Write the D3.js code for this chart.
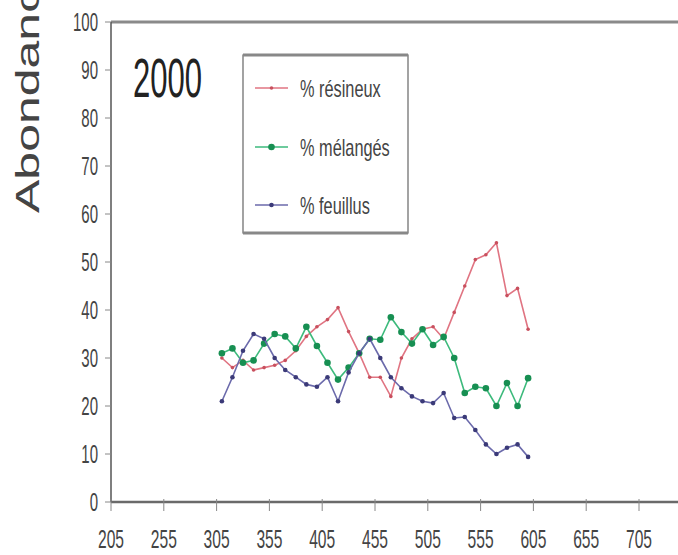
<!DOCTYPE html>
<html>
<head>
<meta charset="utf-8">
<script src="https://cdn.jsdelivr.net/npm/d3@7"></script>
<style>
  body { margin: 0; background: white; }
  svg { display: block; }
</style>
</head>
<body>
<div id="chart"></div>
<script>
// Diamètres (classes) et pourcentages
const classes = [310, 320, 330, 340, 350, 360, 370, 380, 390, 400,
                 410, 420, 430, 440, 450, 460, 470, 480, 490, 500,
                 510, 520, 530, 540, 550, 560, 570, 580, 590, 600];
const resineux = [30, 28, 29.5, 27.5, 28, 28.5, 29.5, 31.5, 34.5, 36.5,
                  38, 40.5, 35.5, 31, 26, 26, 22, 30, 34, 36,
                  36.5, 34, 39.5, 45, 50.5, 51.5, 54, 43, 44.5, 36];
const melanges = [31, 32, 29, 29.5, 33, 35, 34.5, 32, 36.5, 32.5,
                  29, 25.5, 28, 31, 34, 33.8, 38.5, 35.4, 33, 36,
                  32.7, 34.4, 30, 22.7, 24, 23.7, 20, 24.8, 20, 25.8];
const feuillus = [21, 26, 31.5, 35, 34, 30, 27.5, 26, 24.5, 24,
                  26, 21, 27, 31, 34, 30, 26, 23.7, 22, 21,
                  20.6, 22.7, 17.5, 17.7, 15, 12, 10, 11.3, 12, 9.4];
const xTicks = [205, 255, 305, 355, 405, 455, 505, 555, 605, 655, 705];
const yTicks = [0, 10, 20, 30, 40, 50, 60, 70, 80, 90, 100];
const seriesNames = ["% résineux", "% mélangés", "% feuillus"];

const W = 678, H = 555;
const font = "'Liberation Sans', Arial, sans-serif";
const squeeze = 0.6;  // le texte de la figure est compressé horizontalement

const svg = d3.select("#chart").append("svg")
    .attr("width", W)
    .attr("height", H);

const x = d3.scaleLinear().domain([205, 705]).range([111, 639]);
const y = d3.scaleLinear().domain([0, 100]).range([502, 22]);

// Cadre : ligne du haut, axe du bas, axe gauche
svg.append("line")
    .attr("x1", 111).attr("y1", y(100)).attr("x2", W).attr("y2", y(100))
    .attr("stroke", "#8a8a8a").attr("stroke-width", 3);
svg.append("line")
    .attr("x1", 111).attr("y1", y(0)).attr("x2", W).attr("y2", y(0))
    .attr("stroke", "#6a6a6a").attr("stroke-width", 2.5);
svg.append("line")
    .attr("x1", 111).attr("y1", y(100)).attr("x2", 111).attr("y2", y(0))
    .attr("stroke", "#555").attr("stroke-width", 1.5);

// Graduations Y
yTicks.forEach(t => {
    svg.append("line")
        .attr("x1", 105).attr("x2", 111).attr("y1", y(t)).attr("y2", y(t))
        .attr("stroke", "#888").attr("stroke-width", 1);
    svg.append("g")
        .attr("transform", `translate(98, ${y(t) + 9}) scale(${squeeze}, 1)`)
        .append("text")
        .attr("text-anchor", "end")
        .attr("font-family", font)
        .attr("font-size", 25)
        .attr("fill", "#444")
        .text(t);
});

// Graduations X
xTicks.forEach(t => {
    svg.append("line")
        .attr("x1", x(t)).attr("x2", x(t)).attr("y1", y(0) - 3).attr("y2", y(0) + 9)
        .attr("stroke", "#888").attr("stroke-width", 1);
    svg.append("g")
        .attr("transform", `translate(${x(t)}, 548) scale(${squeeze}, 1)`)
        .append("text")
        .attr("text-anchor", "middle")
        .attr("font-family", font)
        .attr("font-size", 26)
        .attr("fill", "#444")
        .text(t);
});

// Titre de l'axe Y (coupé en haut, comme sur la figure)
svg.append("text")
    .attr("transform", "translate(39, 213) scale(0.65, 1) rotate(-90)")
    .attr("font-family", font)
    .attr("font-size", 50)
    .attr("fill", "#444")
    .text("Abondance");

// Année
svg.append("g")
    .attr("transform", `translate(133, 97) scale(0.565, 1)`)
    .append("text")
    .attr("font-family", font)
    .attr("font-size", 55)
    .attr("fill", "#222")
    .text("2000");

// Séries
const series = [
    { name: seriesNames[0], values: resineux, line: "#e07482", dot: "#c8505e", r: 1.8 },
    { name: seriesNames[1], values: melanges, line: "#3dba7c", dot: "#178f52", r: 3.3 },
    { name: seriesNames[2], values: feuillus, line: "#6b6aab", dot: "#3b3a78", r: 2.3 }
];

const line = d3.line()
    .x((d, i) => x(classes[i]))
    .y(d => y(d));

series.forEach(s => {
    svg.append("path")
        .datum(s.values)
        .attr("d", line)
        .attr("fill", "none")
        .attr("stroke", s.line)
        .attr("stroke-width", 1.6);
    svg.selectAll(null)
        .data(s.values)
        .enter()
        .append("circle")
        .attr("cx", (d, i) => x(classes[i]))
        .attr("cy", d => y(d))
        .attr("r", s.r)
        .attr("fill", s.dot);
});

// Légende
const lg = { x: 243, y: 55, w: 165, h: 178 };
svg.append("rect")
    .attr("x", lg.x).attr("y", lg.y).attr("width", lg.w).attr("height", lg.h)
    .attr("fill", "white").attr("stroke", "#666").attr("stroke-width", 1.2);
svg.append("line")
    .attr("x1", lg.x).attr("x2", lg.x + lg.w).attr("y1", lg.y).attr("y2", lg.y)
    .attr("stroke", "#888").attr("stroke-width", 3);
svg.append("line")
    .attr("x1", lg.x).attr("x2", lg.x + lg.w).attr("y1", lg.y + lg.h).attr("y2", lg.y + lg.h)
    .attr("stroke", "#888").attr("stroke-width", 3);

const legendY = [88, 147, 205];
series.forEach((s, i) => {
    svg.append("line")
        .attr("x1", 255).attr("x2", 288).attr("y1", legendY[i]).attr("y2", legendY[i])
        .attr("stroke", s.line).attr("stroke-width", 1.6);
    svg.append("circle")
        .attr("cx", 271.5).attr("cy", legendY[i]).attr("r", s.r)
        .attr("fill", s.dot);
    svg.append("g")
        .attr("transform", `translate(300, ${legendY[i] + 9}) scale(0.68, 1)`)
        .append("text")
        .attr("font-family", font)
        .attr("font-size", 24)
        .attr("fill", "#444")
        .text(s.name);
});
</script>
</body>
</html>
